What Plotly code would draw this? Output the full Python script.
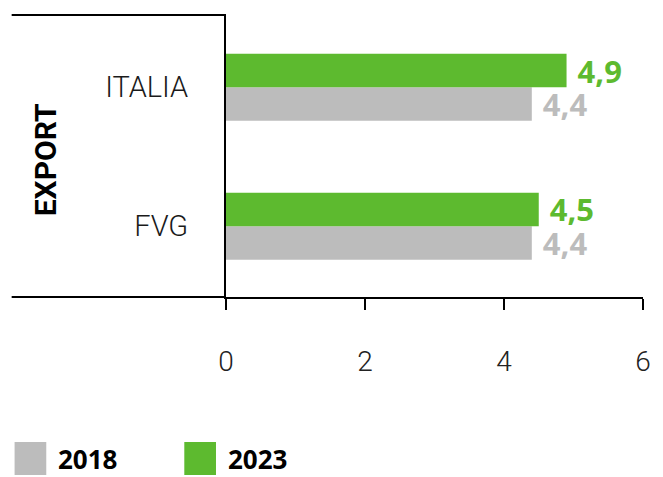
import plotly.graph_objects as go

# Export data (values in the unit shown on the x axis)
regions = ["FVG", "ITALIA"]
export_2018 = [4.4, 4.4]
export_2023 = [4.5, 4.9]
years = ["2018", "2023"]
x_ticks = [0, 2, 4, 6]

gray = "#bcbcbc"
green = "#5dba2f"
label_font = "Open Sans"
axis_font = "Roboto"

fig = go.Figure()
for name, vals, col in [(years[0], export_2018, gray), (years[1], export_2023, green)]:
    fig.add_trace(go.Bar(
        y=regions, x=vals, name=name, orientation="h",
        marker=dict(color=col, line=dict(width=0)),
        texttemplate=" %{x:.1f}", textposition="outside",
        textfont=dict(family=label_font, size=31, color=col, weight="bold"),
        constraintext="none", cliponaxis=False,
    ))

fig.update_layout(
    width=663, height=477,
    margin=dict(l=226, r=17, t=15, b=180),
    paper_bgcolor="white", plot_bgcolor="white",
    barmode="group", bargap=0.518, bargroupgap=0,
    separators=",.",
    showlegend=False,
    xaxis=dict(
        range=[0, 6], tickvals=x_ticks, showgrid=False, zeroline=False,
        showline=True, linecolor="black", linewidth=2,
        ticks="outside", ticklen=11, tickwidth=2, tickcolor="black",
        ticklabelstandoff=27,
        tickfont=dict(family=axis_font, size=28, color="#222", weight=300),
    ),
    yaxis=dict(
        categoryorder="array", categoryarray=regions,
        range=[-0.51, 1.52], showgrid=False, zeroline=False,
        showline=True, linecolor="black", linewidth=2,
        ticks="", ticklabelstandoff=30,
        tickfont=dict(family=axis_font, size=29, color="#1a1a1a", weight=300),
    ),
)

# frame lines extending left of the plot area
fig.add_shape(type="line", xref="paper", yref="paper", x0=-0.514, x1=0, y0=1, y1=1,
              line=dict(color="black", width=2))
fig.add_shape(type="line", xref="paper", yref="paper", x0=-0.514, x1=0, y0=0, y1=0,
              line=dict(color="black", width=2))

fig.add_annotation(text="EXPORT", xref="paper", yref="paper", x=-0.479, y=0.4876,
                   textangle=-90, showarrow=False,
                   font=dict(family=axis_font, size=30, color="black", weight="bold"))

# legend
for (x0, x1, tx), name, col in zip([(-0.507, -0.431, -0.405), (-0.1, -0.024, 0.002)], years, [gray, green]):
    fig.add_shape(type="rect", xref="paper", yref="paper", x0=x0, x1=x1, y0=-0.631, y1=-0.514,
                  fillcolor=col, line=dict(width=0))
    fig.add_annotation(text=name, xref="paper", yref="paper", x=tx, y=-0.574,
                       xanchor="left", yanchor="middle", showarrow=False, borderpad=0,
                       font=dict(family=label_font, size=26, color="black", weight="bold"))

fig.write_html("out.html")
